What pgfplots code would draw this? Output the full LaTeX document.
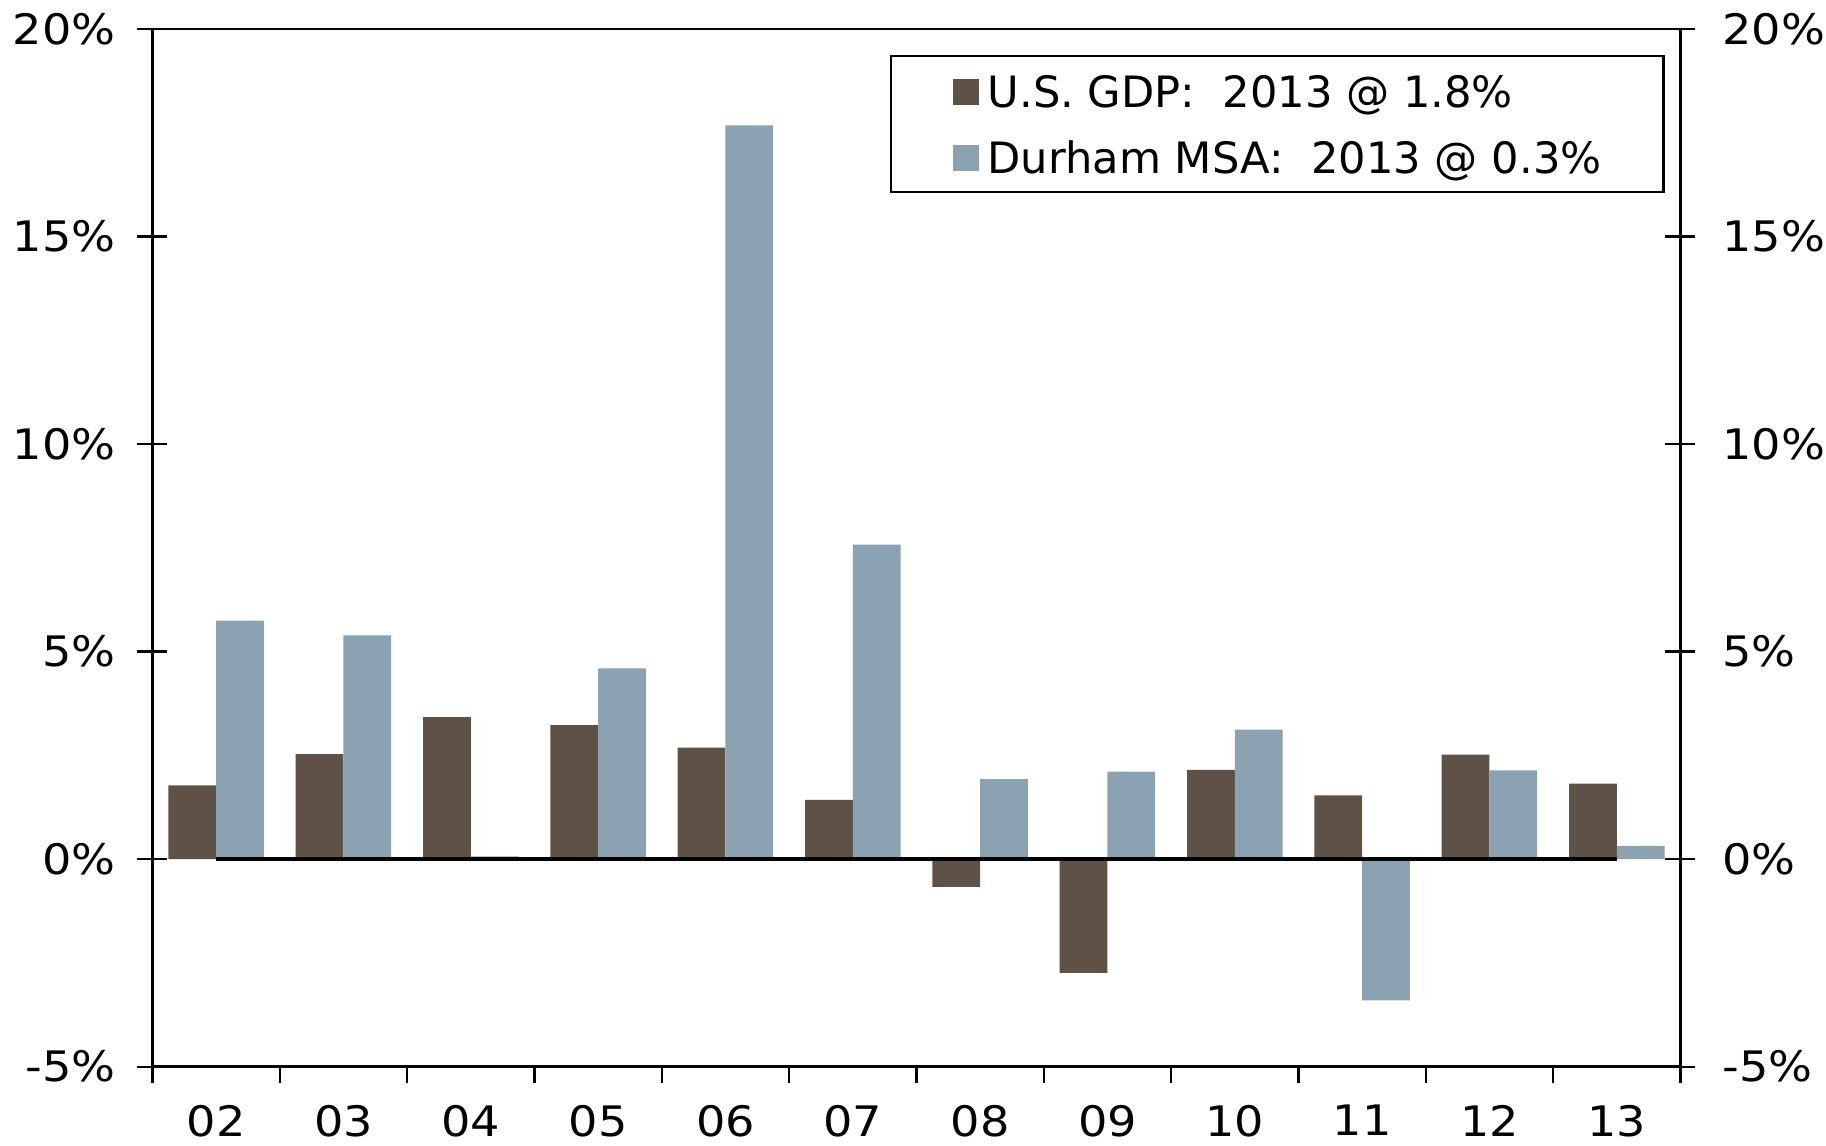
\documentclass[border=0pt]{standalone}
\usepackage{fontspec}
\setmainfont{DejaVu Sans}
\newfontfamily\tickfont[FakeStretch=1.1]{DejaVu Sans}
\usepackage{pgfplots}
\pgfplotsset{compat=1.18}
\definecolor{gdp}{RGB}{94,82,70}
\definecolor{dur}{RGB}{139,162,178}
\pgfplotstableread{
x gdp dur
0 1.78 5.75
1 2.53 5.39
2 3.42 0.07
3 3.23 4.60
4 2.69 17.68
5 1.43 7.58
6 -0.67 1.93
7 -2.74 2.11
8 2.15 3.12
9 1.54 -3.40
10 2.52 2.14
11 1.82 0.32
}\data
\begin{document}
\begin{tikzpicture}[font=\fontsize{10.5}{12}\selectfont]
\useasboundingbox (-38.125pt,-19.575pt) rectangle (418.375pt,266.675pt);
\begin{axis}[
  at={(0,0)}, anchor=south west,
  scale only axis, width=381.975pt, height=259.4pt,
  xmin=-0.5, xmax=11.5, ymin=-5, ymax=20,
  axis line style={line width=0.7pt},
  xtick={0,...,11},
  xticklabels={02,03,04,05,06,07,08,09,10,11,12,13},
  xtick pos=lower,
  every major x tick/.append style={draw=none},
  minor xtick={-0.5,0.5,...,11.5},
  minor tick length=4pt,
  xtick align=outside,
  every minor x tick/.append style={line width=0.6pt, black},
  xticklabel style={yshift=1.5pt, font=\tickfont\fontsize{10.5}{12}\selectfont},
  ytick={-5,0,5,10,15,20},
  yticklabels={-5\%,0\%,5\%,10\%,15\%,20\%},
  ytick pos=both, yticklabel pos=left,
  ytick align=center,
  major tick length=7.5pt,
  every major y tick/.append style={line width=0.6pt, black},
  yticklabel style={xshift=-2pt, font=\tickfont\fontsize{10.5}{12}\selectfont},
  bar width=0.375,
  legend style={at={(1,1)}, anchor=north east, xshift=-3.9pt, yshift=-6.5pt,
    draw=black, line width=0.6pt, inner xsep=15.5pt, inner ysep=4.7pt,
    row sep=8.6pt, column sep=2.2pt,
    nodes={inner sep=0pt, text height=8pt, text depth=0pt, anchor=base west},
    font=\fontsize{10.8}{12}\selectfont},
  legend cell align=left,
  legend image code/.code={\fill[#1] (0pt,0.6pt) rectangle (6.4pt,7pt);},
]
\addplot[ybar, bar shift=-0.1875, fill=gdp, draw=none] table[x=x,y=gdp]{\data};
\addlegendentry{U.S. GDP:\ \ 2013 @ 1.8\%}
\addplot[ybar, bar shift=0.1875, fill=dur, draw=none] table[x=x,y=dur]{\data};
\addlegendentry{Durham MSA:\ \ 2013 @ 0.3\%}
\addplot[black, line width=1.1pt, forget plot] coordinates {(0,0) (11,0)};
\end{axis}
\begin{axis}[
  at={(0,0)}, anchor=south west,
  scale only axis, width=381.975pt, height=259.4pt,
  xmin=-0.5, xmax=11.5, ymin=-5, ymax=20,
  hide x axis,
  axis y line*=right,
  y axis line style={draw=none},
  major tick length=0pt,
  ytick={-5,0,5,10,15,20},
  yticklabels={-5\%,0\%,5\%,10\%,15\%,20\%},
  yticklabel style={xshift=7pt, font=\tickfont\fontsize{10.5}{12}\selectfont},
]
\end{axis}
\end{tikzpicture}
\end{document}
